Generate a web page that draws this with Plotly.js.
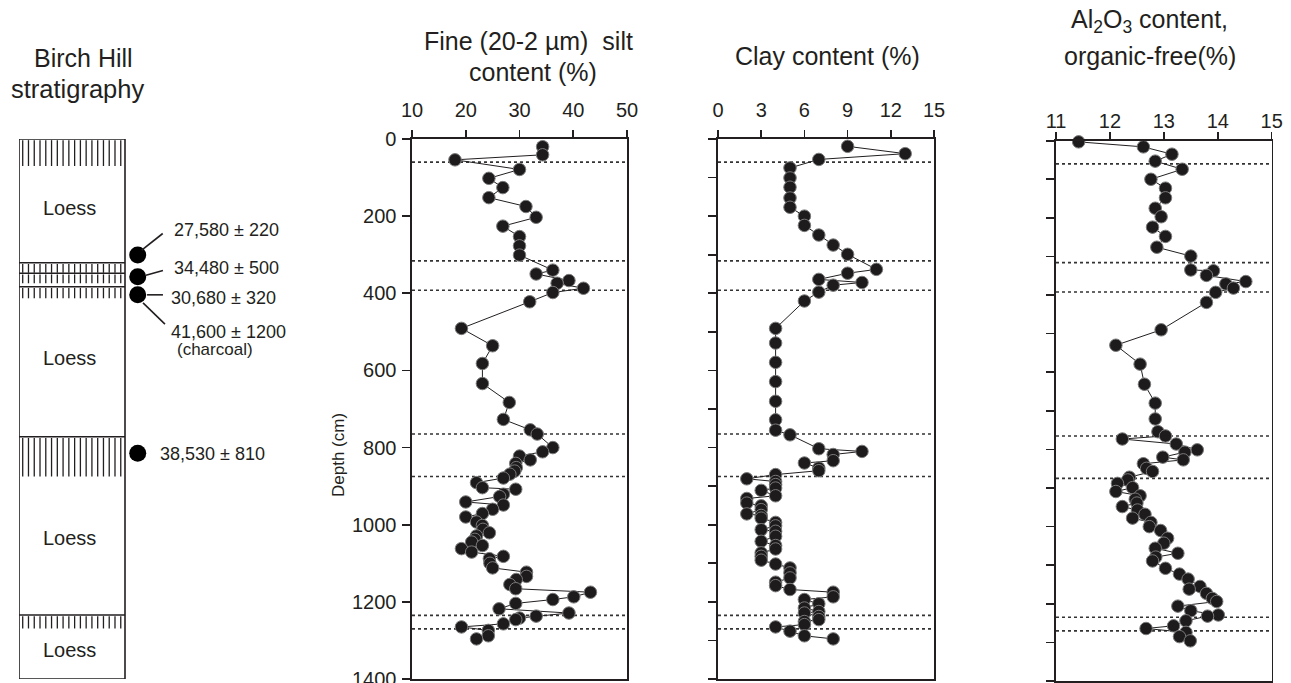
<!DOCTYPE html>
<html>
<head>
<meta charset="utf-8">
<script src="https://cdn.plot.ly/plotly-3.0.1.min.js"></script>
<style>html,body{margin:0;padding:0;background:#fff;}#chart{width:1291px;height:683px;}</style>
</head>
<body>
<div id="chart"></div>
<script>
// ---------- DATA ----------
const siltDepth = [20,41,54,79,102,126,152,175,203,226,253,277,301,340,350,367,374,387,398,422,491,536,582,634,683,727,754,765,800,811,822,832,841,852,861,869,879,891,904,908,921,927,941,949,960,971,980,993,1002,1012,1021,1029,1038,1045,1054,1062,1071,1082,1088,1100,1112,1123,1134,1142,1155,1166,1175,1187,1194,1204,1218,1229,1237,1242,1246,1257,1265,1274,1288,1296];
const siltValue = [34.3,34.3,18.0,30.0,24.3,26.9,24.3,31.2,33.1,26.9,30.0,30.0,30.0,36.2,33.1,39.2,37.0,41.9,36.2,31.9,19.2,25.0,23.1,23.1,28.1,27.0,32.0,33.3,36.2,34.3,30.0,32.0,29.3,29.4,29.1,28.2,27.0,22.0,23.1,29.3,27.0,26.3,20.0,27.0,25.0,23.1,20.0,22.0,23.1,23.2,24.4,22.0,21.7,21.1,23.1,19.2,21.1,27.0,24.4,24.5,25.0,31.3,31.3,29.4,28.2,29.3,43.2,40.1,36.2,29.3,26.2,39.2,33.1,30.0,29.3,27.0,19.2,24.2,24.2,22.0];

const clayDepth = [19,38,53,75,101,125,153,177,200,224,249,275,299,338,348,364,372,379,397,420,491,529,579,629,680,728,755,767,803,810,818,834,840,853,860,870,881,888,896,905,911,925,932,944,951,961,972,976,983,994,1003,1013,1017,1030,1043,1054,1063,1073,1082,1092,1102,1112,1125,1138,1149,1158,1168,1175,1187,1194,1205,1216,1225,1229,1238,1246,1251,1259,1265,1276,1288,1296];
const clayValue = [9,13,7,5,5,5,5,5,6,6,7,8,9,11,9,7,10,8,7,6,4,4,4,4,4,4,4,5,7,10,8,8,6,7,7,4,2,4,4,4,3,4,2,2,3,3,2,3,3,4,4,3,4,4,3,4,4,3,3,3,4,5,5,5,4,4,5,8,8,6,7,6,7,6,7,7,6,6,4,5,6,8];

const alDepth = [3,16,35,53,74,100,123,148,175,197,224,248,276,299,335,337,349,365,371,382,393,419,490,530,579,631,680,721,754,765,773,786,801,807,820,827,837,849,857,872,879,888,899,909,920,929,939,948,957,968,978,989,1000,1010,1030,1043,1056,1069,1079,1089,1108,1123,1136,1155,1162,1173,1186,1194,1206,1218,1229,1232,1244,1257,1264,1274,1285,1296];
const alValue = [11.42,12.62,13.15,12.84,13.34,12.76,13.03,13.03,12.84,12.95,12.79,13.03,12.87,13.5,13.5,13.92,13.79,14.52,14.15,14.29,13.96,13.79,12.95,12.11,12.56,12.64,12.84,12.84,12.89,13.03,12.23,13.23,13.62,13.39,12.98,13.36,12.62,12.68,12.79,12.36,12.33,12.14,12.42,12.11,12.56,12.47,12.5,12.23,12.51,12.65,12.42,12.76,12.73,12.94,13.07,13.0,12.84,13.26,12.85,12.79,13.03,13.29,13.45,13.67,13.47,13.79,13.9,13.98,13.26,13.5,14.01,13.81,13.41,13.18,12.67,13.41,13.29,13.49];

const boundaryDepths = [60, 316, 392, 765, 875, 1235, 1270];

const paleosolTop  = [0, 321, 348, 383, 772, 1234];
const paleosolBase = [70, 347, 374, 413, 875, 1269];
const unitLines = [321, 348, 383, 772, 1234];
const loessDepth = [179, 567, 1035, 1325];

const dateDepth = [301, 357, 404, 815];
const dateLabels = ['27,580 \u00b1 220', '34,480 \u00b1 500', '30,680 \u00b1 320', '41,600 \u00b1 1200', '38,530 \u00b1 810'];

const siltTicks = [10, 20, 30, 40, 50];
const clayTicks = [0, 3, 6, 9, 12, 15];
const alTicks = [11, 12, 13, 14, 15];
const depthTicks = [0, 200, 400, 600, 800, 1000, 1200, 1400];

// ---------- LAYOUT HELPERS ----------
const W = 1291, H = 683;
const px = X => X / W;
const py = Y => 1 - Y / H;
const FONT = 'Liberation Sans, Arial, Helvetica, sans-serif';
const INK = '#231f20';

const markerStyle = {size: 12.5, color: '#1e1b1c', line: {color: '#7a7a7a', width: 1}};
const lineStyle = {color: INK, width: 1};

function profile(x, y, xa, ya) {
  return {type: 'scatter', mode: 'lines+markers', x: x, y: y, xaxis: xa, yaxis: ya,
    line: lineStyle, marker: markerStyle, hoverinfo: 'skip', showlegend: false, cliponaxis: false};
}

// hatch lines of the stratigraphy column
const hx = [], hy = [];
const nHatch = 18, hx0 = 0.035, hx1 = 0.96;
for (let b = 0; b < paleosolTop.length; b++) {
  for (let i = 0; i < nHatch; i++) {
    const x = hx0 + i * (hx1 - hx0) / (nHatch - 1);
    hx.push(x, x, null);
    hy.push(paleosolTop[b] + 3, paleosolBase[b], null);
  }
}

const traces = [
  profile(siltValue, siltDepth, 'x', 'y'),
  profile(clayValue, clayDepth, 'x2', 'y2'),
  profile(alValue, alDepth, 'x3', 'y3'),
  {type: 'scatter', mode: 'lines', x: hx, y: hy, xaxis: 'x4', yaxis: 'y4',
   line: {color: INK, width: 1.3}, hoverinfo: 'skip', showlegend: false},
  {type: 'scatter', mode: 'markers', x: dateDepth.map(() => 1.12), y: dateDepth, xaxis: 'x4', yaxis: 'y4',
   marker: {size: 17, color: '#000'}, hoverinfo: 'skip', showlegend: false, cliponaxis: false}
];

const axisCommon = {showgrid: false, zeroline: false, showline: true, mirror: true,
  linecolor: INK, linewidth: 1.6, ticks: 'outside', tickcolor: INK, tickwidth: 1.6,
  ticklabeloverflow: 'allow',
  tickfont: {family: FONT, size: 20, color: INK}, fixedrange: true};

const yDom12 = [py(679), py(139)];
const yDom3 = [py(681), py(140.7)];

const layout = {
  width: W, height: H, autosize: false,
  margin: {l: 0, r: 0, t: 0, b: 0, pad: 0},
  paper_bgcolor: '#fff', plot_bgcolor: 'rgba(0,0,0,0)',
  font: {family: FONT, color: INK},
  xaxis: Object.assign({}, axisCommon, {domain: [px(412), px(627)], range: [10, 50], tickvals: siltTicks,
    side: 'top', anchor: 'y', ticklen: 7, ticklabelstandoff: 5}),
  yaxis: Object.assign({}, axisCommon, {domain: yDom12, range: [1400, 0], tickvals: depthTicks,
    anchor: 'x', ticklen: 8, ticklabelstandoff: 2}),
  xaxis2: Object.assign({}, axisCommon, {domain: [px(718), px(934)], range: [0, 15], tickvals: clayTicks,
    side: 'top', anchor: 'y2', ticklen: 7, ticklabelstandoff: 5}),
  yaxis2: Object.assign({}, axisCommon, {domain: yDom12, range: [1400, 0], dtick: 100,
    anchor: 'x2', ticklen: 8, showticklabels: false}),
  xaxis3: Object.assign({}, axisCommon, {domain: [px(1056), px(1271.7)], range: [11, 15], tickvals: alTicks,
    side: 'top', anchor: 'y3', ticklen: 7, ticklabelstandoff: -4}),
  yaxis3: Object.assign({}, axisCommon, {domain: yDom3, range: [1400, 0], dtick: 100,
    anchor: 'x3', ticklen: 8, showticklabels: false}),
  xaxis4: {domain: [px(19), px(319)], range: [0, 300 / 106], visible: false, fixedrange: true, anchor: 'y4'},
  yaxis4: {domain: yDom12, range: [1400, 0], visible: false, fixedrange: true, anchor: 'x4'},
  shapes: [],
  annotations: []
};

// dotted boundary lines in each profile panel
[['x', 'y'], ['x2', 'y2'], ['x3', 'y3']].forEach(([xa, ya]) => {
  boundaryDepths.forEach(d => {
    layout.shapes.push({type: 'line', xref: xa + ' domain', yref: ya, x0: 0, x1: 1, y0: d, y1: d,
      line: {color: '#333', width: 1.6, dash: 'dot'}, layer: 'below'});
  });
});

// stratigraphy column
layout.shapes.push({type: 'rect', xref: 'x4', yref: 'y4', x0: 0, x1: 1, y0: 0, y1: 1400,
  line: {color: INK, width: 1.6}});
unitLines.forEach(d => layout.shapes.push({type: 'line', xref: 'x4', yref: 'y4', x0: 0, x1: 1, y0: d, y1: d,
  line: {color: INK, width: 1.6}}));

// leader lines from dated samples to labels
const leaders = [[1.158, 288, 1.356, 245], [1.198, 353, 1.358, 341], [1.208, 404, 1.358, 404], [1.17, 425, 1.377, 480]];
leaders.forEach(l => layout.shapes.push({type: 'line', xref: 'x4', yref: 'y4', x0: l[0], y0: l[1], x1: l[2], y1: l[3],
  line: {color: INK, width: 1.6}}));

function ann(text, x, y, size, extra) {
  return Object.assign({text: text, x: x, y: y, xref: 'paper', yref: 'paper', showarrow: false,
    xanchor: 'center', yanchor: 'middle', font: {family: FONT, size: size, color: INK}}, extra || {});
}
function annS(text, x, d, size, extra) {
  return Object.assign({text: text, x: x, y: d, xref: 'x4', yref: 'y4', showarrow: false,
    xanchor: 'left', yanchor: 'middle', font: {family: FONT, size: size, color: INK}}, extra || {});
}

layout.annotations.push(
  ann('Birch Hill', px(83), py(58), 25),
  ann('stratigraphy', px(77), py(89), 25.5),
  ann('Fine (20-2 \u00b5m)  silt', px(528), py(41), 25),
  ann('content (%)', px(533), py(72), 25),
  ann('Clay content (%)', px(828), py(56), 25),
  ann('Al<sub>2</sub>O<sub>3</sub> content,', px(1149), py(21), 25),
  ann('organic-free(%)', px(1150), py(56), 25),
  ann('Depth (cm)', px(338), py(455), 17, {textangle: -90})
);
loessDepth.forEach(d => layout.annotations.push(annS('Loess', 0.48, d, 20, {xanchor: 'center'})));
layout.annotations.push(
  annS(dateLabels[0], 1.443, 236, 18),
  annS(dateLabels[1], 1.443, 334, 18),
  annS(dateLabels[2], 1.415, 412, 18),
  annS(dateLabels[3], 1.415, 500, 18),
  annS('(charcoal)', 1.47, 545, 17),
  annS(dateLabels[4], 1.31, 817, 18)
);

Plotly.newPlot('chart', traces, layout, {staticPlot: true, displayModeBar: false});
</script>
</body>
</html>
